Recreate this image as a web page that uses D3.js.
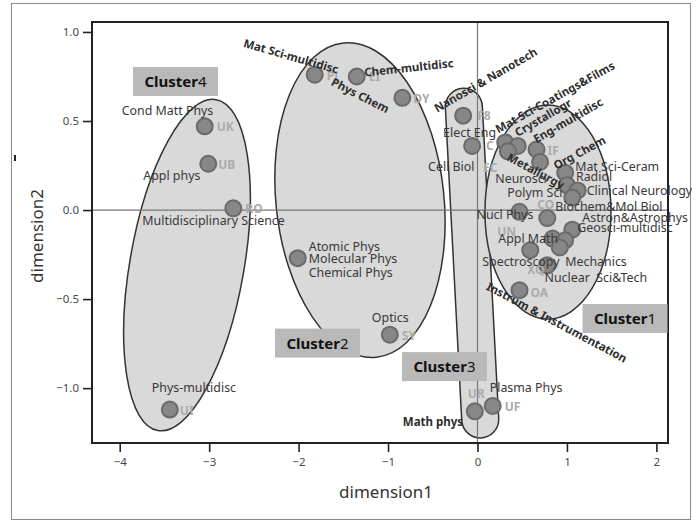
<!DOCTYPE html>
<html><head><meta charset="utf-8">
<script src="https://cdn.jsdelivr.net/npm/d3@7"></script>
<style>body{margin:0;background:#fff}svg{display:block}</style>
</head><body><svg id="c" width="696" height="524"></svg>
<script>
// ---------- data ----------
const names = ["Cond Matt Phys","Appl phys","Multidisciplinary Science","Phys-multidisc",
  "Mat Sci-multidisc","Chem-multidisc","Phys Chem","Atomic Phys","Optics",
  "Nanosci & Nanotech","Elect Eng","Math phys","Plasma Phys",
  "Mat Sci-Coatings&Films","Crystallogr","Mat Sci-other","Eng-multidisc","Metallurgy","Org Chem",
  "Radiol","Clinical Neurology","Polym Sci","Nucl Phys","Biochem&Mol Biol","Astron&Astrophys",
  "Geosci-multidisc","Mechanics","Nuclear Sci&Tech","Appl Math","Spectroscopy","Instrum & Instrumentation"];
const codes = ["UK","UB","RO","UI","PJ","EI","DY","","SY","F8","C","UR","UF",
  "","","","IF","","","","","","","CO","","","","","UN","XQ","OA"];
const dim1 = [-3.05,-3.01,-2.73,-3.44,-1.82,-1.35,-0.84,-2.01,-0.98,-0.16,-0.06,-0.03,0.17,
  0.31,0.45,0.34,0.66,0.70,0.98,1.00,1.12,1.06,0.47,0.78,1.06,0.84,0.98,0.92,0.59,0.78,0.47];
const dim2 = [0.47,0.26,0.01,-1.12,0.76,0.75,0.63,-0.27,-0.70,0.53,0.36,-1.13,-1.10,
  0.38,0.36,0.33,0.34,0.27,0.21,0.14,0.11,0.07,-0.01,-0.045,-0.11,-0.16,-0.17,-0.21,-0.225,-0.31,-0.45];
const cluster = [4,4,4,4,2,2,2,2,2,3,3,3,3,1,1,1,1,1,1,1,1,1,1,1,1,1,1,1,1,1,1];
const clusterNames = ["Cluster1","Cluster2","Cluster3","Cluster4"];
const xTicks = [-4,-3,-2,-1,0,1,2];
const yTicks = [1.0,0.5,0.0,-0.5,-1.0];
const xDomain = [-4.31, 2.13];
const yDomain = [-1.308, 1.056];

// ---------- layout (labels attached to points: pixel offsets, angles) ----------
const labelLayout = [
  {p:0,t:"Cond Matt Phys",dx:-83,dy:-11},
  {p:1,t:"Appl phys",dx:-65,dy:16},
  {p:2,t:"Multidisciplinary Science",dx:-91,dy:17},
  {p:3,t:"Phys-multidisc",dx:-18,dy:-18},
  {p:4,t:"Mat Sci-multidisc",dx:-72,dy:-28,a:16,b:1},
  {p:5,t:"Chem-multidisc",dx:8,dy:0,a:-6,b:1},
  {p:6,t:"Phys Chem",dx:-72,dy:-13,a:27,b:1},
  {p:7,t:"Atomic Phys",dx:11,dy:-7},
  {p:7,t:"Molecular Phys",dx:11,dy:5},
  {p:7,t:"Chemical Phys",dx:11,dy:19},
  {p:8,t:"Optics",dx:-18,dy:-13},
  {p:9,t:"Nanosci & Nanotech",dx:-26,dy:-3,a:-30,b:1},
  {p:10,t:"Elect Eng",dx:-29,dy:-9},
  {p:10,t:"Cell Biol",dx:-44,dy:25},
  {p:11,t:"Math phys",dx:-72,dy:15,b:1},
  {p:12,t:"Plasma Phys",dx:-3,dy:-14},
  {p:13,t:"Mat Sci-Coatings&Films",dx:-7,dy:-9,a:-29,b:1},
  {p:14,t:"Crystallogr",dx:0,dy:-9,a:-30,b:1},
  {p:16,t:"Eng-multidisc",dx:0,dy:-6,a:-30,b:1},
  {p:17,t:"Metallurgy",dx:-34,dy:-2,a:28,b:1},
  {p:18,t:"Org Chem",dx:-9,dy:-3,a:-28,b:1},
  {p:18,t:"Mat Sci-Ceram",dx:10,dy:-2},
  {p:19,t:"Radiol",dx:9,dy:-4},
  {p:20,t:"Clinical Neurology",dx:9,dy:5},
  {p:21,t:"Polym Sci",dx:-65,dy:-1},
  {p:21,t:"Neurosci",dx:-77,dy:-15},
  {p:22,t:"Nucl Phys",dx:-43,dy:7},
  {p:23,t:"Biochem&Mol Biol",dx:8,dy:-7},
  {p:24,t:"Astron&Astrophys",dx:10,dy:-8},
  {p:24,t:"Geosci-multidisc",dx:5,dy:2},
  {p:28,t:"Appl Math",dx:-32,dy:-7},
  {p:29,t:"Spectroscopy",dx:-65,dy:1},
  {p:29,t:"Mechanics",dx:18,dy:1},
  {p:30,t:"Nuclear  Sci&Tech",dx:25,dy:-8},
  {p:30,t:"Instrum & Instrumentation",dx:-34,dy:-1,a:28,b:1}
];
const codeLayout = {0:[12,5],1:[10,5],2:[12,5],3:[10,5],4:[12,5],5:[12,5],6:[11,5],8:[12,5],
  9:[14,4],10:[14,4],11:[-7,-13],12:[12,5],16:[11,5],23:[-10,-9],28:[-33,-14],29:[-20,9],30:[11,7]};
const extraCodes = [{p:10,t:"EC",dx:11,dy:26}];
const shapes = [ // cluster outlines: centre in data units, size in px
  {c:4,type:"ellipse",x:-3.248,y:-0.309,rx:57,ry:168,rot:10},
  {c:2,type:"ellipse",x:-1.314,y:0.056,rx:84,ry:158,rot:-6},
  {c:3,type:"capsule",x:-0.061,y:-0.298,w:37,h:350,rot:-3},
  {c:1,type:"ellipse",x:0.788,y:-0.011,rx:63,ry:107,rot:0}
];
const boxes = [ // cluster tag boxes: centre in data units
  {c:1,x:1.649,y:-0.609},{c:2,x:-1.789,y:-0.747},{c:3,x:-0.369,y:-0.879},{c:4,x:-3.376,y:0.722}
];

// ---------- drawing ----------
const svg = d3.select("#c");
const FONT = "'Noto Sans', 'DejaVu Sans', sans-serif";
const L = 92, R = 668, T = 22, B = 443;
const x = d3.scaleLinear().domain(xDomain).range([L, R]);
const y = d3.scaleLinear().domain(yDomain).range([B, T]);

svg.append("rect").attr("x",11.5).attr("y",3.5).attr("width",679).attr("height",516)
  .attr("fill","none").attr("stroke","#8a8a8a").attr("stroke-width",1);
svg.append("rect").attr("x",14).attr("y",155).attr("width",2).attr("height",6).attr("fill","#222");

// cluster shapes
shapes.forEach(s => {
  const g = svg.append("g").attr("transform", `translate(${x(s.x)},${y(s.y)}) rotate(${s.rot})`);
  if (s.type === "ellipse") {
    g.append("ellipse").attr("rx", s.rx).attr("ry", s.ry)
      .attr("fill","#d9d9d9").attr("stroke","#333").attr("stroke-width",1.5);
  } else {
    g.append("rect").attr("x",-s.w/2).attr("y",-s.h/2).attr("width",s.w).attr("height",s.h)
      .attr("rx",s.w/2).attr("ry",s.w/2)
      .attr("fill","#d9d9d9").attr("stroke","#333").attr("stroke-width",1.5);
  }
});

// zero lines
svg.append("line").attr("x1",L).attr("x2",R).attr("y1",y(0)).attr("y2",y(0))
  .attr("stroke","#777").attr("stroke-width",1.2);
svg.append("line").attr("x1",x(0)).attr("x2",x(0)).attr("y1",T).attr("y2",B)
  .attr("stroke","#777").attr("stroke-width",1.2);

// axes
const fmtX = d => d < 0 ? "\u2212" + Math.abs(d) : String(d);
const fmtY = d => (d < 0 ? "\u2212" : "") + Math.abs(d).toFixed(1);
const gx = svg.append("g").attr("transform",`translate(0,${B})`)
  .call(d3.axisBottom(x).tickValues(xTicks).tickSize(9).tickPadding(6).tickFormat(fmtX));
const gy = svg.append("g").attr("transform",`translate(${L},0)`)
  .call(d3.axisLeft(y).tickValues(yTicks).tickSize(9).tickPadding(4).tickFormat(fmtY));
[gx, gy].forEach(g => {
  g.select(".domain").remove();
  g.selectAll(".tick line").attr("stroke","#222").attr("stroke-width",1.6);
  g.selectAll(".tick text").attr("fill","#4a4a4a").style("font-family",FONT).style("font-size","11.5px");
});
svg.append("rect").attr("x",L).attr("y",T).attr("width",R-L).attr("height",B-T)
  .attr("fill","none").attr("stroke","#222").attr("stroke-width",2);

svg.append("text").attr("x",386).attr("y",498).attr("text-anchor","middle")
  .attr("fill","#333").style("font-family",FONT).style("font-size","17px").text("dimension1");
svg.append("text").attr("transform","translate(43,236) rotate(-90)").attr("text-anchor","middle")
  .attr("fill","#333").style("font-family",FONT).style("font-size","17px").text("dimension2");

// points
const idx = d3.range(names.length);
svg.append("g").selectAll("circle").data(idx).join("circle")
  .attr("cx", i => x(dim1[i])).attr("cy", i => y(dim2[i])).attr("r",8)
  .attr("fill","#878787").attr("stroke","#6a6a6a").attr("stroke-width",2);

// codes
const codeG = svg.append("g").style("font-family",FONT).style("font-size","12px")
  .style("font-weight","bold").attr("fill","#ababab");
idx.filter(i => codes[i] && codeLayout[i]).forEach(i => {
  codeG.append("text").attr("x", x(dim1[i]) + codeLayout[i][0]).attr("y", y(dim2[i]) + codeLayout[i][1])
    .text(codes[i]);
});
extraCodes.forEach(e => {
  codeG.append("text").attr("x", x(dim1[e.p]) + e.dx).attr("y", y(dim2[e.p]) + e.dy).text(e.t);
});

// labels
const labG = svg.append("g").style("font-family",FONT);
labelLayout.forEach(l => {
  const px = x(dim1[l.p]) + l.dx, py = y(dim2[l.p]) + l.dy;
  labG.append("text").attr("transform",`translate(${px},${py}) rotate(${l.a||0})`)
    .attr("fill", l.b ? "#2e2e2e" : "#383838")
    .style("font-weight", l.b ? "bold" : "normal")
    .style("font-size", l.b ? "11.5px" : "12.4px")
    .style("white-space","pre").text(l.t);
});

// cluster boxes
boxes.forEach(b => {
  const cx = x(b.x), cy = y(b.y);
  svg.append("rect").attr("x",cx-42.5).attr("y",cy-14.5).attr("width",85).attr("height",29)
    .attr("fill","#b9b9b9");
  const t = svg.append("text").attr("x",cx).attr("y",cy+5.5).attr("text-anchor","middle")
    .attr("fill","#111").style("font-family",FONT).style("font-size","15px");
  const nm = clusterNames[b.c-1];
  t.append("tspan").style("font-weight","bold").text(nm.replace(/\d+$/,""));
  t.append("tspan").text(nm.match(/\d+$/)[0]);
});
</script></body></html>
